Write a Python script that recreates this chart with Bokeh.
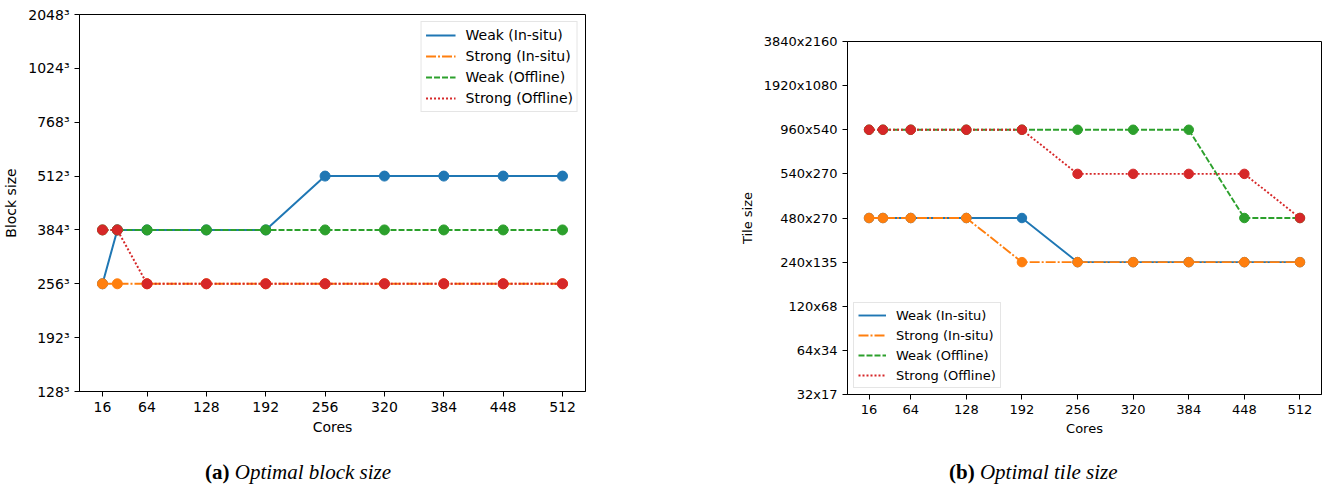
from bokeh.plotting import figure
from bokeh.models import Range1d, FixedTicker, Legend, LegendItem, Div
from bokeh.layouts import row, column
from bokeh.embed import file_html
from bokeh.resources import INLINE

# ---------------- data ----------------
cores = [16, 32, 64, 128, 192, 256, 320, 384, 448, 512]
x_ticks = [16, 64, 128, 192, 256, 320, 384, 448, 512]

series_names = ["Weak (In-situ)", "Strong (In-situ)", "Weak (Offline)", "Strong (Offline)"]
series_colors = ["#1f77b4", "#ff7f0e", "#2ca02c", "#d62728"]
series_dash = ["solid", "10 2 2 2", "6 2", "2 2"]

# (a) block size (edge length of cube)
block_edges = [128, 192, 256, 384, 512, 768, 1024, 2048]
block_labels = ["128³", "192³", "256³", "384³", "512³", "768³", "1024³", "2048³"]
block_weak_insitu = [256, 384, 384, 384, 384, 512, 512, 512, 512, 512]
block_strong_insitu = [256, 256, 256, 256, 256, 256, 256, 256, 256, 256]
block_weak_offline = [384, 384, 384, 384, 384, 384, 384, 384, 384, 384]
block_strong_offline = [384, 384, 256, 256, 256, 256, 256, 256, 256, 256]

# (b) tile size
tile_labels = ["32x17", "64x34", "120x68", "240x135", "480x270", "540x270",
               "960x540", "1920x1080", "3840x2160"]
tile_weak_insitu = ["480x270", "480x270", "480x270", "480x270", "480x270",
                    "240x135", "240x135", "240x135", "240x135", "240x135"]
tile_strong_insitu = ["480x270", "480x270", "480x270", "480x270", "240x135",
                      "240x135", "240x135", "240x135", "240x135", "240x135"]
tile_weak_offline = ["960x540", "960x540", "960x540", "960x540", "960x540",
                     "960x540", "960x540", "960x540", "480x270", "480x270"]
tile_strong_offline = ["960x540", "960x540", "960x540", "960x540", "960x540",
                       "540x270", "540x270", "540x270", "540x270", "480x270"]

FONT = "DejaVu Sans"


def make_fig(width, height, nlev, labels, ylabel, mb, fs, ystand):
    p = figure(width=width, height=height, output_backend="svg", toolbar_location=None,
               x_range=Range1d(-8.8, 536.8), y_range=Range1d(0, nlev - 1),
               min_border_left=mb[0], min_border_right=mb[1],
               min_border_top=mb[2], min_border_bottom=mb[3])
    p.xgrid.visible = False
    p.ygrid.visible = False
    p.outline_line_color = "black"
    p.outline_line_width = 1
    p.outline_line_alpha = 1
    p.xaxis.ticker = FixedTicker(ticks=x_ticks)
    p.yaxis.ticker = FixedTicker(ticks=list(range(nlev)))
    p.yaxis.major_label_overrides = {i: lab for i, lab in enumerate(labels)}
    p.xaxis.axis_label = "Cores"
    p.yaxis.axis_label = ylabel
    for ax in (p.xaxis[0], p.yaxis[0]):
        ax.axis_line_color = "black"
        ax.axis_line_width = 1
        ax.major_tick_line_color = "black"
        ax.major_tick_line_width = 1
        ax.major_tick_in = 0
        ax.major_tick_out = 5
        ax.minor_tick_line_color = None
        ax.major_label_text_font = FONT
        ax.major_label_text_font_size = fs
        ax.major_label_text_color = "black"
        ax.major_label_standoff = 5
        ax.axis_label_text_font = FONT
        ax.axis_label_text_font_size = fs
        ax.axis_label_text_font_style = "normal"
        ax.axis_label_text_color = "black"
    p.xaxis[0].axis_label_standoff = 4
    p.yaxis[0].axis_label_standoff = ystand
    return p


def add_series(p, ys, location, fs, lw, ms, lh, sp, pad, gw, margin):
    items = []
    for name, col, dash, y in zip(series_names, series_colors, series_dash, ys):
        r = p.line(cores, y, line_color=col, line_width=lw, line_dash=dash)
        p.scatter(cores, y, size=ms, fill_color=col, line_color=col)
        items.append(LegendItem(label=name, renderers=[r]))
    leg = Legend(items=items, location=location,
                 label_text_font=FONT, label_text_font_size=fs, label_text_color="black",
                 glyph_width=gw, glyph_height=lh, label_height=lh, spacing=sp,
                 padding=pad, margin=margin, label_standoff=10,
                 border_line_color="#cccccc", border_line_width=1,
                 background_fill_color="white", background_fill_alpha=0.8)
    p.add_layout(leg, "center")


p1 = make_fig(620, 440, len(block_labels), block_labels, "Block size", (78, 35, 14, 49), "14px", 6)
ys1 = [[block_edges.index(v) for v in s] for s in
       (block_weak_insitu, block_strong_insitu, block_weak_offline, block_strong_offline)]
add_series(p1, ys1, "top_right", "14px", 2, 10, 18, 3, 4, 30, 7)

p2 = make_fig(704, 440, len(tile_labels), tile_labels, "Tile size", (227, 3, 41, 46), "13px", 6)
ys2 = [[tile_labels.index(v) for v in s] for s in
       (tile_weak_insitu, tile_strong_insitu, tile_weak_offline, tile_strong_offline)]
add_series(p2, ys2, "bottom_left", "13px", 1.9, 9.5, 16, 4, 4, 28, 6)

cap_style = ("position:relative; top:22px; white-space:nowrap; "
             "font-family:'Liberation Serif', serif; font-size:21px; line-height:21px; color:black;")
d1 = Div(text=f'<div style="{cap_style} padding-left:205px;"><b>(a)</b> <i>Optimal block size</i></div>',
         width=620, height=44, margin=(0, 0, 0, 0))
d2 = Div(text=f'<div style="{cap_style} padding-left:329px;"><b>(b)</b> <i>Optimal tile size</i></div>',
         width=704, height=44, margin=(0, 0, 0, 0))

layout = row(column(p1, d1, spacing=0), column(p2, d2, spacing=0), spacing=0)

open("out.html", "w").write(file_html(layout, INLINE))
